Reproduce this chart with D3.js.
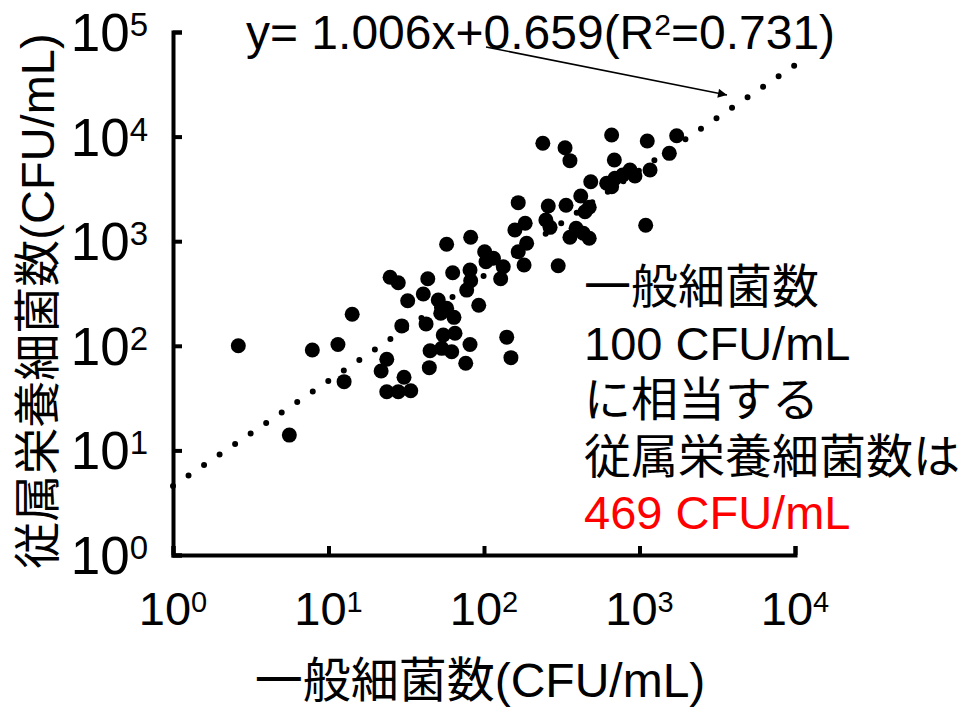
<!DOCTYPE html>
<html>
<head>
<meta charset="utf-8">
<script src="https://cdn.jsdelivr.net/npm/d3@7"></script>
<style>
  html, body { margin: 0; padding: 0; background: #fff; }
  svg text { font-family: "Liberation Sans", Arial, "Noto Sans CJK JP", sans-serif; }
</style>
</head>
<body>
<div id="chart"></div>
<script>
// 一般細菌数 (x) and 従属栄養細菌数 (y), CFU/mL
const generalCount = [
  2.63, 5.60, 7.87, 11.5, 14.2, 12.6, 23.7, 21.8, 30.6, 23.7,
  28.1, 33.8, 44.5, 45.0, 53.5, 62.0, 29.6, 42.4, 32.3, 24.9,
  28.1, 43.5, 40.7, 57.5, 82.1, 62.9, 81.3, 82.1, 77.4, 50.8,
  57.5, 52.7, 64.1, 92.5, 54.7, 65.1, 81.3, 140, 76.3, 149,
  101, 115, 133, 128, 103, 158, 184, 188, 166, 181,
  239, 332, 357, 662, 1122, 1734, 1555, 689, 1169, 486,
  615, 695, 869, 935, 780, 662, 419, 166, 259, 337,
  475, 446, 250, 266, 391, 357, 475, 435, 1096, 300
];
const heteroCount = [
  100, 14.0, 91.2, 103, 200, 45.4, 74.3, 57.4, 50.0, 36.4,
  36.4, 37.2, 61.8, 89.8, 94.6, 87.8, 155, 162, 270, 452,
  401, 438, 313, 934, 1090, 500, 531, 419, 341, 274,
  228, 205, 187, 244, 127, 132, 103, 121, 68.0, 77.0,
  794, 686, 570, 438, 637, 1280, 1483, 955, 794, 592,
  8630, 7830, 5890, 10360, 9080, 10200, 6920, 5970, 4800, 3706,
  3580, 3990, 4800, 4200, 4295, 3320, 2704, 2335, 2170, 2205,
  2110, 1915, 1595, 1357, 1328, 1090, 1066, 1190, 1419, 583
];

// log-log regression y = 1.006x + 0.659
const fitSlope = 1.006;
const fitIntercept = 0.659;
const fitLabel = ["y= 1.006x+0.659(R", "2", "=0.731)"];

const xTicks = [1, 10, 100, 1000, 10000];
const yTicks = [1, 10, 100, 1000, 10000, 100000];

const xTitle = "一般細菌数(CFU/mL)";
const yTitle = "従属栄養細菌数(CFU/mL)";
const noteLines = ["一般細菌数", "100 CFU/mL", "に相当する", "従属栄養細菌数は"];
const noteResult = "469 CFU/mL";

const width = 970, height = 707;
const svg = d3.select("#chart").append("svg")
  .attr("width", width)
  .attr("height", height);

const x = d3.scaleLog().domain([1, 10000]).range([173, 795]);
const y = d3.scaleLog().domain([1, 100000]).range([555, 32]);

// trend line (dotted)
const fitX = [1, 10000];
svg.append("path")
  .datum(fitX)
  .attr("d", d3.line()
    .x(d => x(d))
    .y(d => y(Math.pow(10, fitSlope * Math.log10(d) + fitIntercept))))
  .attr("fill", "none")
  .attr("stroke", "#000")
  .attr("stroke-width", 6)
  .attr("stroke-linecap", "round")
  .attr("stroke-dasharray", "0 18.75");

// points
svg.append("g")
  .selectAll("circle")
  .data(generalCount.map((d, i) => [d, heteroCount[i]]))
  .join("circle")
  .attr("cx", d => x(d[0]))
  .attr("cy", d => y(d[1]))
  .attr("r", 7.5)
  .attr("fill", "#000");

// axes
const xAxis = svg.append("g")
  .attr("transform", `translate(0,${y(1)})`)
  .call(d3.axisBottom(x).tickValues(xTicks).tickSize(-9).tickSizeOuter(-9).tickFormat(""));
const yAxis = svg.append("g")
  .attr("transform", `translate(${x(1)},0)`)
  .call(d3.axisLeft(y).tickValues(yTicks).tickSize(-9).tickSizeOuter(-9).tickFormat(""));
[xAxis, yAxis].forEach(g => {
  g.select(".domain").attr("stroke", "#000").attr("stroke-width", 4);
  g.selectAll(".tick line").attr("stroke", "#000").attr("stroke-width", 4);
});

// tick labels 10^n
function powLabel(sel, sup, rise) {
  sel.append("tspan").text("10");
  sel.append("tspan")
    .attr("font-size", sup)
    .attr("dy", -rise)
    .text(d => Math.round(Math.log10(d)));
}

svg.append("g")
  .selectAll("text")
  .data(xTicks)
  .join("text")
  .attr("x", d => x(d))
  .attr("y", 625)
  .attr("text-anchor", "middle")
  .attr("font-size", 47)
  .call(powLabel, 29, 13);

svg.append("g")
  .selectAll("text")
  .data(yTicks)
  .join("text")
  .attr("x", 148)
  .attr("y", d => y(d) + 19)
  .attr("text-anchor", "end")
  .attr("font-size", 53)
  .call(powLabel, 33, 15);

// axis titles
svg.append("text")
  .attr("x", 480)
  .attr("y", 697)
  .attr("text-anchor", "middle")
  .attr("font-size", 48)
  .text(xTitle);

svg.append("text")
  .attr("transform", "translate(54,301) rotate(-90)")
  .attr("text-anchor", "middle")
  .attr("font-size", 47)
  .text(yTitle);

// equation + arrow
const eq = svg.append("text")
  .attr("x", 246)
  .attr("y", 49)
  .attr("font-size", 48);
eq.append("tspan").text(fitLabel[0]);
eq.append("tspan").attr("font-size", 30).attr("dy", -14).text(fitLabel[1]);
eq.append("tspan").attr("dy", 14).text(fitLabel[2]);

svg.append("defs").append("marker")
  .attr("id", "arrow")
  .attr("viewBox", "0 0 10 10")
  .attr("refX", 10)
  .attr("refY", 5)
  .attr("markerWidth", 11)
  .attr("markerHeight", 9)
  .attr("markerUnits", "userSpaceOnUse")
  .attr("orient", "auto")
  .append("path")
  .attr("d", "M0,0L10,5L0,10Z")
  .attr("fill", "#000");

svg.append("line")
  .attr("x1", 486).attr("y1", 47)
  .attr("x2", 727).attr("y2", 95)
  .attr("stroke", "#000")
  .attr("stroke-width", 1.5)
  .attr("marker-end", "url(#arrow)");

// note
const note = svg.append("g").attr("font-size", 47);
note.selectAll("text")
  .data(noteLines)
  .join("text")
  .attr("x", 584)
  .attr("y", (d, i) => 303 + i * 56.6)
  .text(d => d);
note.append("text")
  .attr("x", 584)
  .attr("y", 303 + noteLines.length * 56.6)
  .attr("fill", "#ff0000")
  .text(noteResult);
</script>
</body>
</html>
